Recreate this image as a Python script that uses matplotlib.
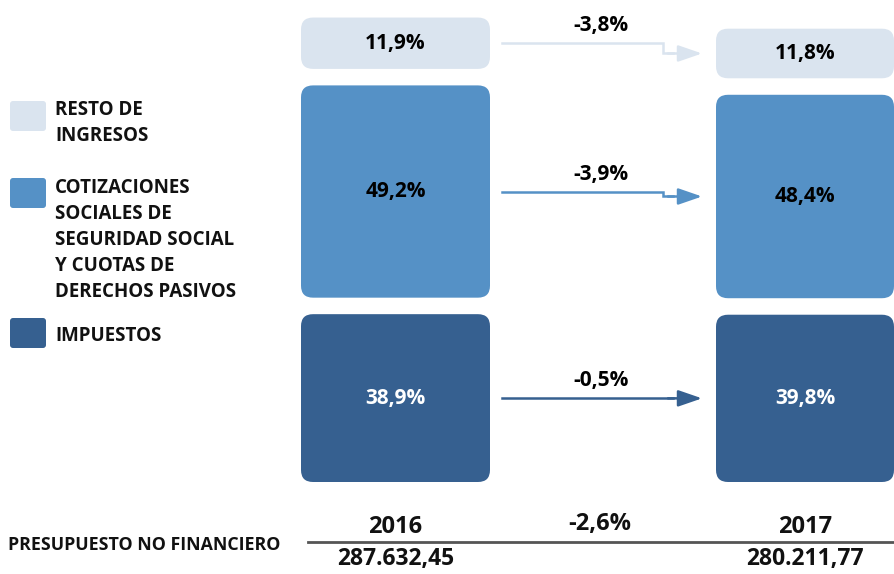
import matplotlib
matplotlib.use('Agg')
import matplotlib.pyplot as plt
from matplotlib.patches import FancyBboxPatch

plt.rcParams['font.family'] = ['Open Sans', 'DejaVu Sans']
plt.rcParams['font.weight'] = 'bold'

# datos (millones de euros)
years = ['2016', '2017']
totals = [287632.45, 280211.77]
total_labels = ['287.632,45', '280.211,77']
total_change = '-2,6%'
# de abajo arriba: impuestos, cotizaciones, resto
categories = [['IMPUESTOS'],
              ['COTIZACIONES', 'SOCIALES DE', 'SEGURIDAD SOCIAL', 'Y CUOTAS DE', 'DERECHOS PASIVOS'],
              ['RESTO DE', 'INGRESOS']]
shares_2016 = [38.9, 49.2, 11.9]
shares_2017 = [39.8, 48.4, 11.8]
changes = ['-0,5%', '-3,9%', '-3,8%']

colors = ['#366090', '#5591C6', '#DAE4EF']
text_colors = ['white', 'black', 'black']

# escala: px por miles de millones
K = 1.5
BASE = 482
GAP = 11


def ypx(py):
    return (BASE - py) / K


fig = plt.figure(figsize=(8.95, 5.74), dpi=100)
ax = fig.add_axes([0, 0, 1, 1])
ax.set_xlim(0, 895)
ax.set_ylim(ypx(574), ypx(0))
ax.axis('off')

col_left = [301, 716]
col_width = [189, 178]

mids = []
for j, shares in enumerate([shares_2016, shares_2017]):
    bottom = 0
    m = []
    for i, s in enumerate(shares):
        h = s / 100 * totals[j] / 1000
        ax.add_patch(FancyBboxPatch((col_left[j], bottom), col_width[j], h,
                                    boxstyle='round,pad=0,rounding_size=12',
                                    mutation_aspect=1 / K, fc=colors[i], ec='none'))
        mid = bottom + h / 2
        ax.text(col_left[j] + col_width[j] / 2, mid, f'{s:.1f}%'.replace('.', ','),
                ha='center', va='center', fontsize=15, fontweight='bold',
                color=text_colors[i])
        m.append(mid)
        bottom += h + GAP
    mids.append(m)

# flechas de variacion
x0, xs, x1 = 502, 663, 702
for i in range(3):
    y0, y1 = mids[0][i], mids[1][i]
    ax.plot([x0, xs, xs, xs + 10], [y0, y0, y1, y1], color=colors[i], lw=1.8,
            solid_joinstyle='miter')
    ax.annotate('', xy=(x1, y1), xytext=(xs + 5, y1),
                arrowprops=dict(arrowstyle='-|>,head_length=1.45,head_width=0.5',
                                mutation_scale=10, color=colors[i], lw=1.8,
                                shrinkA=0, shrinkB=0))
    ax.annotate(changes[i], xy=(601, y0), xytext=(0, 12.5), textcoords='offset points',
                ha='center', va='center', fontsize=15, fontweight='bold', color='black')

# leyenda
leg_top = [318, 178, 101]
leg_text = [336, 188, 110]
for i in range(3):
    ax.add_patch(FancyBboxPatch((10, ypx(leg_top[i] + 30)), 36, 30 / K,
                                boxstyle='round,pad=0,rounding_size=3',
                                mutation_aspect=1 / K, fc=colors[i], ec='none'))
    for k, line in enumerate(categories[i]):
        ax.text(55, ypx(leg_text[i] + 26 * k), line, ha='left', va='center',
                fontsize=13.5, fontweight='bold', color='#111111')

# pie: presupuesto no financiero
ax.text(8, ypx(545), 'PRESUPUESTO NO FINANCIERO', ha='left', va='center',
        fontsize=12.8, fontweight='bold', color='#111111')
ax.plot([308, 895], [ypx(542), ypx(542)], color='#555555', lw=2)
for j in range(2):
    cx = col_left[j] + col_width[j] / 2
    ax.text(cx, ypx(527), years[j], ha='center', va='center', fontsize=17,
            fontweight='bold', color='#111111')
    ax.text(cx, ypx(559), total_labels[j], ha='center', va='center', fontsize=16.5,
            fontweight='bold', color='#111111')
ax.text(600, ypx(524), total_change, ha='center', va='center', fontsize=17,
        fontweight='bold', color='#111111')

fig.savefig('out.png', dpi=100)
